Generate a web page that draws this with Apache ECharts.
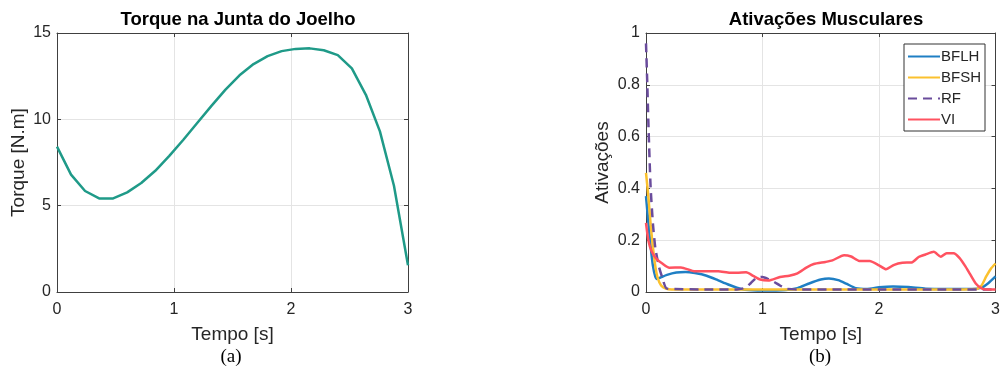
<!DOCTYPE html>
<html>
<head>
<meta charset="utf-8">
<script src="https://cdn.jsdelivr.net/npm/echarts@6/dist/echarts.min.js"></script>
<style>
  html, body { margin: 0; padding: 0; background: #fff; }
  #chart { width: 1003px; height: 370px; }
</style>
</head>
<body>
<div id="chart"></div>
<script>
// (a) knee joint torque
const tTorque = [0, 0.12, 0.24, 0.36, 0.48, 0.6, 0.72, 0.84, 0.96, 1.08, 1.2, 1.32, 1.44,
  1.56, 1.68, 1.8, 1.92, 2.04, 2.16, 2.28, 2.4, 2.52, 2.64, 2.76, 2.88, 3.0];
const torque = [8.42, 6.8, 5.85, 5.42, 5.42, 5.77, 6.31, 7.02, 7.88, 8.82, 9.8, 10.78, 11.72,
  12.55, 13.2, 13.66, 13.95, 14.08, 14.11, 14.0, 13.72, 12.95, 11.42, 9.3, 6.15, 1.55];

// (b) muscle activations
const tBFLH = [0, 0.03, 0.06, 0.09, 0.12, 0.18, 0.26, 0.34, 0.42, 0.52, 0.62, 0.7, 0.78, 0.85,
  1.0, 1.2, 1.3, 1.4, 1.5, 1.57, 1.65, 1.72, 1.8, 1.9, 2.0, 2.12, 2.25, 2.4, 2.6, 2.8, 2.88, 2.94, 3.0];
const BFLH = [0.37, 0.22, 0.1, 0.05, 0.055, 0.066, 0.075, 0.077, 0.073, 0.063, 0.045, 0.03, 0.017, 0.009,
  0.006, 0.008, 0.015, 0.033, 0.048, 0.052, 0.046, 0.032, 0.015, 0.012, 0.018, 0.021, 0.019, 0.013, 0.012, 0.012, 0.017, 0.035, 0.06];

const tBFSH = [0, 0.02, 0.04, 0.06, 0.08, 0.1, 0.13, 0.17, 0.22, 0.5, 1.0, 1.5, 2.0, 2.5, 2.84, 2.88, 2.92, 2.96, 3.0];
const BFSH = [0.46, 0.37, 0.26, 0.17, 0.1, 0.055, 0.025, 0.013, 0.01, 0.01, 0.01, 0.01, 0.01, 0.01, 0.012, 0.025, 0.06, 0.09, 0.11];

const tRF = [0, 0.01, 0.02, 0.03, 0.04, 0.06, 0.08, 0.11, 0.14, 0.18, 0.5, 0.78, 0.85, 0.9, 0.95,
  1.0, 1.05, 1.1, 1.15, 1.2, 1.3, 2.0, 2.5, 3.0];
const RF = [0.96, 0.82, 0.66, 0.52, 0.4, 0.26, 0.17, 0.1, 0.055, 0.013, 0.01, 0.01, 0.016, 0.035, 0.055,
  0.058, 0.05, 0.039, 0.025, 0.013, 0.01, 0.01, 0.01, 0.01];

const tVI = [0, 0.02, 0.05, 0.09, 0.14, 0.2, 0.3, 0.42, 0.52, 0.62, 0.72, 0.78, 0.86, 0.92, 0.98,
  1.05, 1.15, 1.23, 1.3, 1.38, 1.44, 1.54, 1.6, 1.7, 1.76, 1.83, 1.92, 2.0, 2.06, 2.13, 2.2, 2.28,
  2.34, 2.4, 2.47, 2.53, 2.58, 2.64, 2.69, 2.74, 2.78, 2.83, 2.88, 2.93, 3.0];
const VI = [0.267, 0.2, 0.155, 0.128, 0.11, 0.094, 0.095, 0.08, 0.08, 0.08, 0.074, 0.074, 0.076, 0.062, 0.048,
  0.044, 0.058, 0.063, 0.072, 0.095, 0.108, 0.116, 0.122, 0.142, 0.137, 0.12, 0.12, 0.103, 0.088, 0.105, 0.113, 0.114,
  0.135, 0.145, 0.155, 0.136, 0.15, 0.15, 0.132, 0.1, 0.07, 0.033, 0.014, 0.01, 0.01];

const pair = (ts, vs) => ts.map((t, i) => [t, vs[i]]);

const FONT = '"Liberation Sans", Arial, sans-serif';
const axisCol = '#404040';
const textCol = '#262626';

function xAx(grid, pos, showLabels) {
  return {
    type: 'value', gridIndex: grid, position: pos, min: 0, max: 3, interval: 1,
    name: showLabels ? 'Tempo [s]' : '', nameLocation: 'middle', nameGap: 33,
    nameTextStyle: { fontFamily: FONT, fontSize: 19, color: textCol },
    axisLine: { show: true, onZero: false, lineStyle: { color: axisCol, width: 1 } },
    axisTick: { show: true, inside: true, length: 4, lineStyle: { color: axisCol } },
    axisLabel: { show: showLabels, fontFamily: FONT, fontSize: 16, color: textCol, margin: 10 },
    splitLine: { show: showLabels, lineStyle: { color: '#e4e4e4', width: 1 } }
  };
}

function yAx(grid, pos, showLabels, max, interval, name, gap) {
  return {
    type: 'value', gridIndex: grid, position: pos, min: 0, max: max, interval: interval,
    name: showLabels ? name : '', nameLocation: 'middle', nameGap: gap,
    nameTextStyle: { fontFamily: FONT, fontSize: 19, color: textCol },
    axisLine: { show: true, onZero: false, lineStyle: { color: axisCol, width: 1 } },
    axisTick: { show: true, inside: true, length: 4, lineStyle: { color: axisCol } },
    axisLabel: { show: showLabels, fontFamily: FONT, fontSize: 16, color: textCol, margin: 6 },
    splitLine: { show: showLabels, lineStyle: { color: '#e4e4e4', width: 1 } }
  };
}

function lineSeries(name, data, color, xi, yi, dashed, smooth) {
  return {
    name: name, type: 'line', xAxisIndex: xi, yAxisIndex: yi,
    data: data, showSymbol: false, symbol: 'none',
    smooth: smooth,
    lineStyle: { color: color, width: 2.5, type: dashed ? [9, 6] : 'solid' },
    itemStyle: { color: color },
    animation: false
  };
}

const chart = echarts.init(document.getElementById('chart'), null, { renderer: 'canvas' });

chart.setOption({
  backgroundColor: '#fff',
  animation: false,
  title: [
    { text: 'Torque na Junta do Joelho', left: 233, top: 5, textAlign: 'center',
      textStyle: { fontFamily: FONT, fontSize: 18.5, fontWeight: 'bold', color: '#000' } },
    { text: 'Ativações Musculares', left: 821, top: 5, textAlign: 'center',
      textStyle: { fontFamily: FONT, fontSize: 18.5, fontWeight: 'bold', color: '#000' } },
    { text: '(a)', left: 226, top: 343, textAlign: 'center',
      textStyle: { fontFamily: '"Liberation Serif", "Times New Roman", serif', fontSize: 19, fontWeight: 'normal', color: '#000' } },
    { text: '(b)', left: 815, top: 343, textAlign: 'center',
      textStyle: { fontFamily: '"Liberation Serif", "Times New Roman", serif', fontSize: 19, fontWeight: 'normal', color: '#000' } }
  ],
  legend: {
    data: ['BFLH', 'BFSH', 'RF', 'VI'],
    orient: 'vertical', left: 904, top: 44,
    itemWidth: 32, itemHeight: 14, itemGap: 6,
    padding: [5, 4, 4, 3],
    borderColor: '#333', borderWidth: 1, backgroundColor: '#fff',
    itemStyle: { opacity: 0 },
    textStyle: { fontFamily: FONT, fontSize: 15, color: textCol, padding: [0, 0, 0, -4] }
  },
  grid: [
    { left: 57, top: 33, width: 351, height: 259, show: true, borderColor: axisCol, borderWidth: 0 },
    { left: 646, top: 33, width: 351, height: 259, show: true, borderColor: axisCol, borderWidth: 0 }
  ],
  xAxis: [xAx(0, 'bottom', true), xAx(0, 'top', false), xAx(1, 'bottom', true), xAx(1, 'top', false)],
  yAxis: [
    yAx(0, 'left', true, 15, 5, 'Torque [N.m]', 29),
    yAx(0, 'right', false, 15, 5, '', 0),
    yAx(1, 'left', true, 1, 0.2, 'Ativações', 34),
    yAx(1, 'right', false, 1, 0.2, '', 0)
  ],
  series: [
    lineSeries('Torque', pair(tTorque, torque), '#1f9a88', 0, 0, false, false),
    lineSeries('BFLH', pair(tBFLH, BFLH), '#1f7fc4', 2, 2, false, 0.2),
    lineSeries('BFSH', pair(tBFSH, BFSH), '#fbc12e', 2, 2, false, 0.2),
    lineSeries('RF', pair(tRF, RF), '#6a4c9c', 2, 2, true, 0.2),
    lineSeries('VI', pair(tVI, VI), '#ff5260', 2, 2, false, 0.2)
  ]
});
</script>
</body>
</html>
